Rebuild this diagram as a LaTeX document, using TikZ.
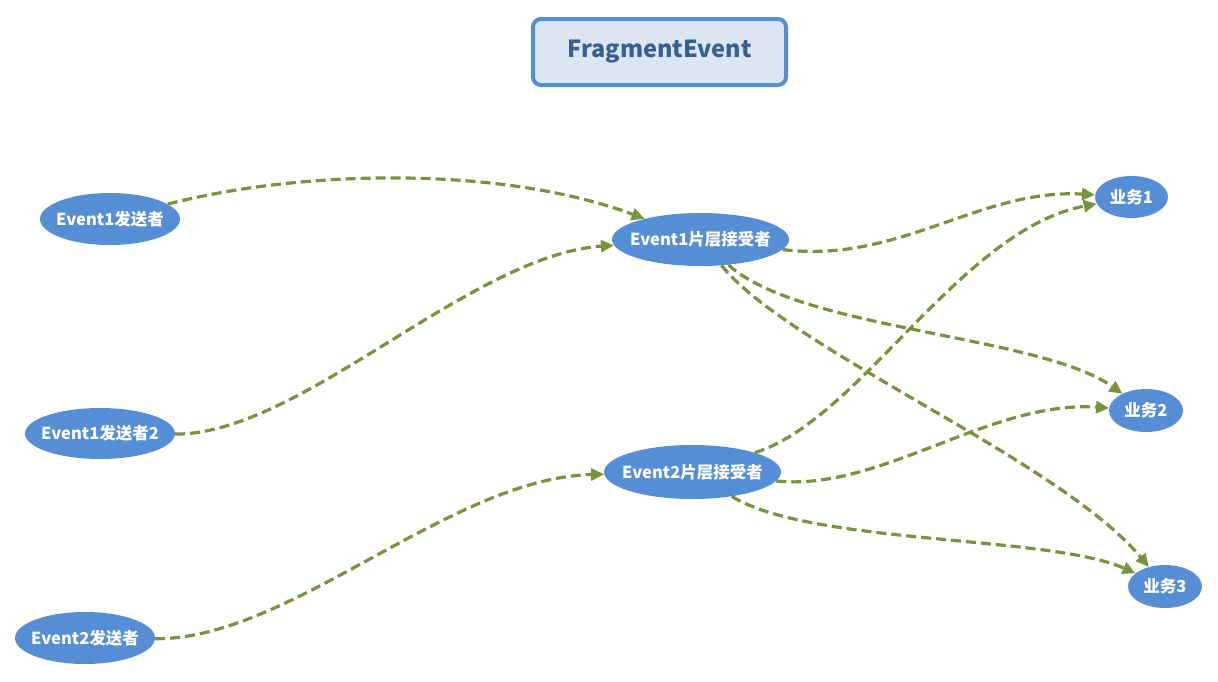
\documentclass[tikz,border=0pt]{standalone}
\usepackage{fontspec}
\setmainfont{Noto Sans CJK SC}
\usetikzlibrary{shapes.geometric,arrows.meta}
\definecolor{nodeblue}{RGB}{85,142,213}
\definecolor{titlefill}{RGB}{220,230,242}
\definecolor{titletext}{RGB}{55,96,146}
\definecolor{edgegreen}{RGB}{119,147,60}
\tikzset{
  ell/.style={ellipse, fill=nodeblue, draw=none, inner sep=0pt, text=white,
    font=\bfseries\fontsize{16.5}{19}\selectfont},
  titlebox/.style={rectangle, rounded corners=8pt, draw=nodeblue, line width=4pt,
    fill=titlefill, text=titletext, inner sep=0pt, minimum width=253pt, minimum height=66pt,
    font=\bfseries\fontsize{23.5}{28}\selectfont},
  conn/.style={draw=edgegreen, line width=3.2pt, dash pattern=on 10pt off 5pt,
    -{Triangle[length=13pt,width=12pt]}},
}
\newcommand{\lbl}[1]{\makebox[0pt]{#1}}
\begin{document}
\begin{tikzpicture}[x=1pt,y=-1pt]
\useasboundingbox (0,0) rectangle (1218,681);
\node[titlebox] (title) at (659.5,52) {FragmentEvent};
\node[ell, minimum width=140pt, minimum height=52pt] (s1) at (110,219) {\lbl{Event1发送者}};
\node[ell, minimum width=150pt, minimum height=51pt] (s2) at (100,433.5) {\lbl{Event1发送者2}};
\node[ell, minimum width=140pt, minimum height=52pt] (s3) at (85,638) {\lbl{Event2发送者}};
\node[ell, minimum width=177pt, minimum height=53pt] (r1) at (700.5,239.5) {\lbl{Event1片层接受者}};
\node[ell, minimum width=177pt, minimum height=54pt] (r2) at (692.5,472) {\lbl{Event2片层接受者}};
\node[ell, minimum width=73pt, minimum height=42pt] (b1) at (1131.5,197) {\lbl{业务1}};
\node[ell, minimum width=74pt, minimum height=43pt] (b2) at (1146,410.5) {\lbl{业务2}};
\node[ell, minimum width=74pt, minimum height=43pt] (b3) at (1165,586.5) {\lbl{业务3}};
\draw[conn] (s1) .. controls (300,170) and (500,165) .. (r1);
\draw[conn] (s2) .. controls (300,435) and (470,255) .. (r1);
\draw[conn] (s3) .. controls (290,640) and (450,478) .. (r2);
\draw[conn] (r1) .. controls (900,264) and (980,188) .. (b1);
\draw[conn] (r1) .. controls (800,330) and (1040,335) .. (b2);
\draw[conn] (r1) .. controls (790,350) and (1060,460) .. (b3);
\draw[conn] (r2) .. controls (860,420) and (960,230) .. (b1);
\draw[conn] (r2) .. controls (880,492) and (990,400) .. (b2);
\draw[conn] (r2) .. controls (810,545) and (1050,535) .. (b3);
\end{tikzpicture}
\end{document}
